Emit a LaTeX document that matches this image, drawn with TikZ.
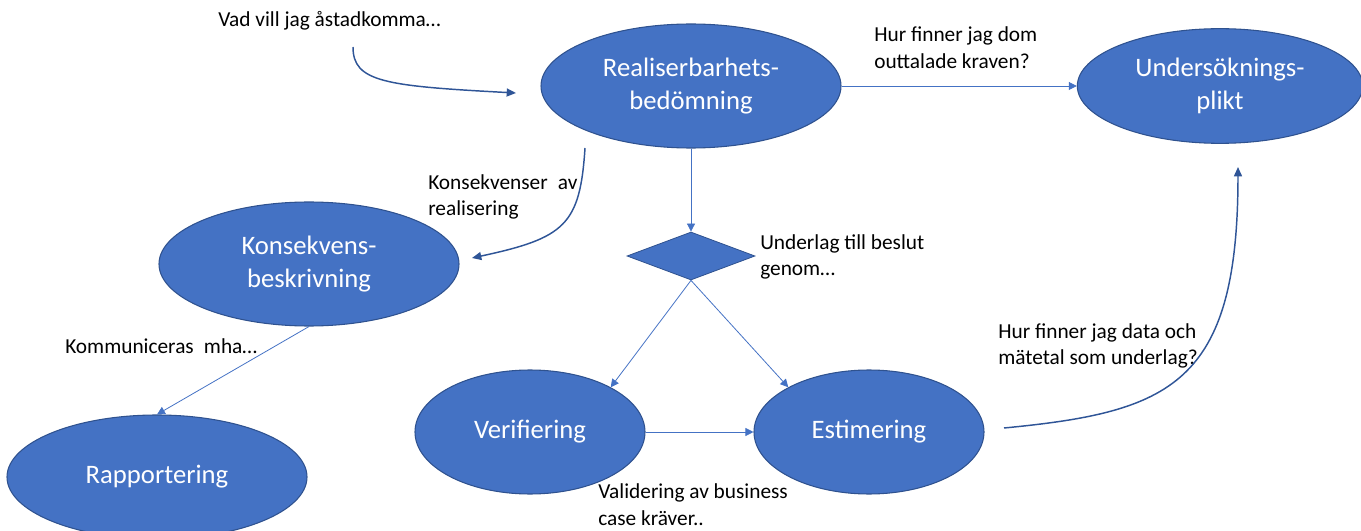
\documentclass[tikz,border=0pt]{standalone}
\usepackage{fontspec}
\setmainfont{Carlito}
\usetikzlibrary{shapes.geometric,arrows.meta}
\definecolor{fillblue}{HTML}{4472C4}
\definecolor{edgeblue}{HTML}{2F528F}
\definecolor{lineblue}{HTML}{4472C4}
\definecolor{curveblue}{HTML}{2F5597}
\begin{document}
\begin{tikzpicture}[x=0.75pt,y=-0.75pt,
  bigell/.style={ellipse, fill=fillblue, draw=edgeblue, line width=0.8pt,
    minimum width=225pt, minimum height=93pt, inner sep=0pt, text=white,
    align=center, font=\fontsize{20}{24.5}\selectfont},
  smallell/.style={bigell, minimum width=172.5pt},
  lbl/.style={anchor=west, align=left, inner sep=0pt,
    font=\fontsize{16}{20}\selectfont, text=black},
  straight/.style={draw=lineblue, line width=0.6pt, -{Triangle[length=6pt,width=6pt]}},
  curved/.style={draw=curveblue, line width=1.1pt, -{Triangle[length=7pt,width=6pt]}}]
\useasboundingbox (0,0) rectangle (1361,531);

% nodes
\node[bigell] (real) at (691,86) {Realiserbarhets-\\bedömning};
\node[bigell, minimum width=214pt, minimum height=86pt] (unders) at (1220,86) {Undersöknings-\\plikt};
\node[bigell] (kons) at (309,264) {Konsekvens-\\beskrivning};
\node[bigell] (rapp) at (157,477) {Rapportering};
\node[smallell] (verif) at (530,432) {Verifiering};
\node[smallell] (estim) at (869,432) {Estimering};
\node[diamond, fill=fillblue, draw=edgeblue, line width=0.6pt, inner sep=0pt,
      minimum width=96pt, minimum height=36pt] (dia) at (691,256) {};

% labels
\node[lbl] (lvad) at (218,21) {Vad vill jag åstadkomma…};
\node[lbl] (lhurdom) at (874,48) {Hur finner jag dom\\outtalade kraven?};
\node[lbl] (lkons) at (428,197) {Konsekvenser\hspace{0.25em} av\\realisering};
\node[lbl] (lund) at (760,257) {Underlag till beslut\\genom…};
\node[lbl] (lkomm) at (65,346) {Kommuniceras\hspace{0.25em} mha…};
\node[lbl] (lval) at (598,505) {Validering av business\\case kräver..};
\node[lbl] (lhurdata) at (998,346) {Hur finner jag data och\\mätetal som underlag?};

% straight connectors
\draw[straight] (real.east) -- (unders.west);
\draw[straight] (real.south) -- (dia.north);
\draw[straight] (dia.south) -- (verif.29);
\draw[straight] (dia.south) -- (estim.151);
\draw[straight] (verif.east) -- (estim.west);
\draw[straight] (kons.south) -- (rapp.north);

% curved connectors
\coordinate (vadS) at (353,47);
\coordinate (vadE) at (516,93);
\draw[curved] (vadS) .. controls (353,82) and (385,86) .. (vadE);

\coordinate (konsS) at (585,148);
\coordinate (konsE) at (472,258);
\draw[curved] (konsS) .. controls (580,225) and (565,238) .. (konsE);

\coordinate (estS) at (1004,428);
\coordinate (estE) at (1238,167);
\draw[curved] (estS) .. controls (1170,412) and (1238,385) .. (estE);
\end{tikzpicture}
\end{document}
